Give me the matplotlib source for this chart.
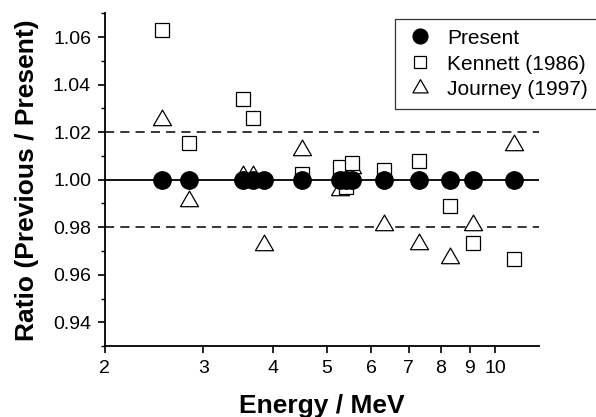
import numpy as np
import matplotlib
matplotlib.use("Agg")
import matplotlib.pyplot as plt
from matplotlib.ticker import FixedLocator, FixedFormatter, MultipleLocator, NullLocator

plt.rcParams["font.family"] = ["Liberation Sans", "DejaVu Sans"]

# energies (MeV) and ratios
present_e = [2.53, 2.83, 3.54, 3.68, 3.86, 4.51, 5.27, 5.40, 5.55, 6.32, 7.29, 8.30, 9.14, 10.8]
present_r = [1.0] * len(present_e)

kennett_e = [2.53, 2.83, 3.54, 3.68, 4.51, 5.27, 5.40, 5.55, 6.32, 7.29, 8.30, 9.14, 10.8]
kennett_r = [1.063, 1.0155, 1.034, 1.026, 1.0025, 1.0055, 0.997, 1.007, 1.004, 1.008, 0.989, 0.9735, 0.9665]

journey_e = [2.53, 2.83, 3.54, 3.68, 3.86, 4.51, 5.27, 5.55, 6.32, 7.29, 8.30, 9.14, 10.8]
journey_r = [1.025, 0.991, 1.0015, 1.0015, 0.9725, 1.0125, 0.9955, 1.005, 0.981, 0.973, 0.967, 0.981, 1.0145]

x_ticks = [2, 3, 4, 5, 6, 7, 8, 9, 10]
y_ticks = [0.94, 0.96, 0.98, 1.00, 1.02, 1.04, 1.06]
band = [0.98, 1.02]

# equilateral triangle, centred on its centroid
tri = [(-1, -0.577), (1, -0.577), (0, 1.155), (-1, -0.577)]

fig = plt.figure(figsize=(5.96, 4.17), dpi=100)
ax = fig.add_axes([0.176, 0.170, 0.729, 0.798])

ax.axhline(1.0, color="black", lw=1.3, zorder=1)
for b in band:
    ax.axhline(b, color="black", lw=1.1, ls=(0, (6, 4)), zorder=1)

ax.plot(journey_e, journey_r, ls="none", marker=tri, ms=15, mfc="white",
        mec="black", mew=0.9, label="Journey (1997)", zorder=2)
ax.plot(kennett_e, kennett_r, ls="none", marker="s", ms=10, mfc="white",
        mec="black", mew=0.9, label="Kennett (1986)", zorder=2)
ax.plot(present_e, present_r, ls="none", marker="o", ms=12.5, color="black",
        label="Present", zorder=3)

ax.set_xscale("log")
ax.set_xlim(2, 12)
ax.set_ylim(0.93, 1.07)
ax.xaxis.set_major_locator(FixedLocator(x_ticks))
ax.xaxis.set_major_formatter(FixedFormatter([str(t) for t in x_ticks]))
ax.xaxis.set_minor_locator(NullLocator())
ax.yaxis.set_major_locator(FixedLocator(y_ticks))
ax.yaxis.set_major_formatter(FixedFormatter([f"{t:.2f}" for t in y_ticks]))
ax.yaxis.set_minor_locator(MultipleLocator(0.01))

for s in ["top", "right"]:
    ax.spines[s].set_visible(False)
for s in ["left", "bottom"]:
    ax.spines[s].set_linewidth(1.3)

ax.tick_params(which="major", direction="out", length=5, width=1.2, labelsize=14, pad=5)
ax.tick_params(which="minor", direction="out", length=3, width=1.0)

ax.set_xlabel("Energy / MeV", fontsize=19, fontweight="bold", labelpad=12)
ax.set_ylabel("Ratio (Previous / Present)", fontsize=19, fontweight="bold", labelpad=10)

h, l = ax.get_legend_handles_labels()
leg = ax.legend(h[::-1], l[::-1], loc="upper left", bbox_to_anchor=(0.668, 0.982),
                fontsize=15, markerscale=0.85, frameon=True, fancybox=False,
                edgecolor="black", handlelength=1.5, labelspacing=0.33,
                borderpad=0.45, handletextpad=0.55, borderaxespad=0)
leg.get_frame().set_linewidth(0.9)

fig.savefig("out.png", dpi=100)
